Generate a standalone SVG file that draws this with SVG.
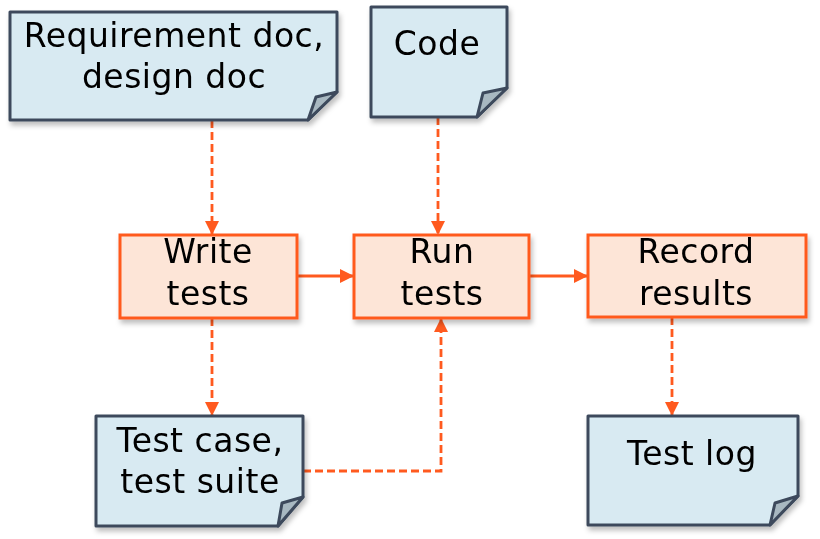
<svg xmlns="http://www.w3.org/2000/svg" width="820" height="539" viewBox="0 0 820 539">
<defs>
<filter id="sh" x="-10%" y="-10%" width="130%" height="130%">
<feDropShadow dx="2" dy="4" stdDeviation="2.5" flood-color="#000" flood-opacity="0.25"/>
</filter>
<marker id="ah" markerWidth="14" markerHeight="14" refX="13" refY="7" orient="auto" markerUnits="userSpaceOnUse">
<path d="M0,0 L14,7 L0,14 Z" fill="#ff5a1f"/>
</marker>
</defs>
<style>
.doc{fill:#d8eaf2;stroke:#3c4a5c;stroke-width:3;stroke-linejoin:round}
.fold{fill:#a8b8c1;stroke:#3c4a5c;stroke-width:3;stroke-linejoin:round}
.proc{fill:#fde5d7;stroke:#ff5a1f;stroke-width:3}
.t{font-family:"DejaVu Sans",Verdana,sans-serif;font-size:33px;letter-spacing:0.5px;fill:#000;text-anchor:middle}
.c{fill:none;stroke:#ff5a1f;stroke-width:2.8}
.d{stroke-dasharray:8,4}
</style>
<g id="connectors">
<path class="c d" d="M212,120 V234" marker-end="url(#ah)"/>
<path class="c d" d="M438,117 V234" marker-end="url(#ah)"/>
<path class="c" d="M297,276 H353" marker-end="url(#ah)"/>
<path class="c" d="M529,276 H587" marker-end="url(#ah)"/>
<path class="c d" d="M212,318 V415" marker-end="url(#ah)"/>
<path class="c d" d="M303,471 H441 V319" marker-end="url(#ah)"/>
<path class="c d" d="M672,317 V415" marker-end="url(#ah)"/>
</g>
<g id="req-doc" filter="url(#sh)">
<path class="doc" d="M10,12 H337 V92 L308,120 H10 Z"/>
<path class="fold" d="M308,120 L316,97 L337,92 Z"/>
<text class="t" x="174" y="47">Requirement doc,</text>
<text class="t" x="174" y="88">design doc</text>
</g>
<g id="code" filter="url(#sh)">
<path class="doc" d="M371,7 H507 V88 L477,117 H371 Z"/>
<path class="fold" d="M477,117 L483,93 L507,88 Z"/>
<text class="t" x="437" y="55">Code</text>
</g>
<g id="write-tests" filter="url(#sh)">
<rect class="proc" x="120" y="235" width="177" height="83"/>
<text class="t" x="208" y="263">Write</text>
<text class="t" x="208" y="305">tests</text>
</g>
<g id="run-tests" filter="url(#sh)">
<rect class="proc" x="354" y="235" width="175" height="83"/>
<text class="t" x="442" y="263">Run</text>
<text class="t" x="442" y="305">tests</text>
</g>
<g id="record-results" filter="url(#sh)">
<rect class="proc" x="588" y="235" width="218" height="82"/>
<text class="t" x="696" y="263">Record</text>
<text class="t" x="696" y="305">results</text>
</g>
<g id="test-case" filter="url(#sh)">
<path class="doc" d="M96,416 H303 V497 L278,526 H96 Z"/>
<path class="fold" d="M278,526 L282,503 L303,497 Z"/>
<text class="t" x="200" y="452">Test case,</text>
<text class="t" x="200" y="493">test suite</text>
</g>
<g id="test-log" filter="url(#sh)">
<path class="doc" d="M588,416 H798 V496 L770,525 H588 Z"/>
<path class="fold" d="M770,525 L775,503 L798,496 Z"/>
<text class="t" x="692" y="465">Test log</text>
</g>
</svg>
